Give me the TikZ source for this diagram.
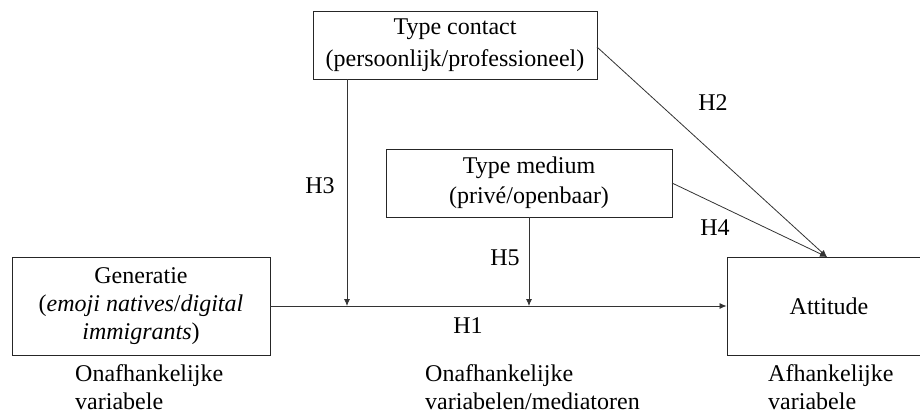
\documentclass[tikz,border=0pt]{standalone}
\usepackage{fontspec}
\setmainfont{Liberation Serif}
\usetikzlibrary{arrows.meta}
\begin{document}
\begin{tikzpicture}[x=1pt,y=-1pt,
  every node/.style={font=\fontsize{24}{28}\selectfont, inner sep=0pt},
  box/.style={draw=black!85, line width=0.9pt, align=center},
  lbl/.style={align=left, anchor=north west},
  conn/.style={draw=black!80, line width=0.8pt, -{Latex[length=7pt,width=6pt]}}]
\useasboundingbox (0,0) rectangle (920,415);
\begin{scope}
\clip (0,0) rectangle (920,415);
% boxes
\node[box, minimum width=258pt, minimum height=98pt] (gen) at (141,306)
  {Generatie\\(\textit{emoji natives}/\textit{digital}\\\textit{immigrants})};
\node[box, minimum width=284pt, minimum height=68pt, font=\fontsize{24}{32}\selectfont] (tc) at (455,45)
  {Type contact\\(persoonlijk/professioneel)};
\node[box, minimum width=286pt, minimum height=68pt, font=\fontsize{24}{30}\selectfont] (tm) at (529,183)
  {Type medium\\(privé/openbaar)};
\node[box, minimum width=204pt, minimum height=98pt] (att) at (829,306) {Attitude};
\end{scope}
% coordinates
\coordinate (h3top) at (347,79);
\coordinate (h3end) at (347,306);
\coordinate (h5end) at (529,306);
\coordinate (atttop) at (827,257);
\coordinate (tcr) at (597,47);
\coordinate (tmr) at (672,183);
% connectors
\draw[conn] (gen.east) -- (att.west);
\draw[conn] (h3top) -- (h3end);
\draw[conn] (tm.south) -- (h5end);
\draw[conn] (tcr) -- (atttop);
\draw[conn] (tmr) -- (atttop);
% labels
\node (H1) at (468,326) {H1};
\node (H2) at (713,103) {H2};
\node (H3) at (320,186) {H3};
\node (H4) at (715,228) {H4};
\node (H5) at (505,258) {H5};
% bottom texts
\node[lbl] (l1) at (75,364) {Onafhankelijke\\variabele};
\node[lbl] (l2) at (425,364) {Onafhankelijke\\variabelen/mediatoren};
\node[lbl] (l3) at (768,364) {Afhankelijke\\variabele};
\end{tikzpicture}
\end{document}
